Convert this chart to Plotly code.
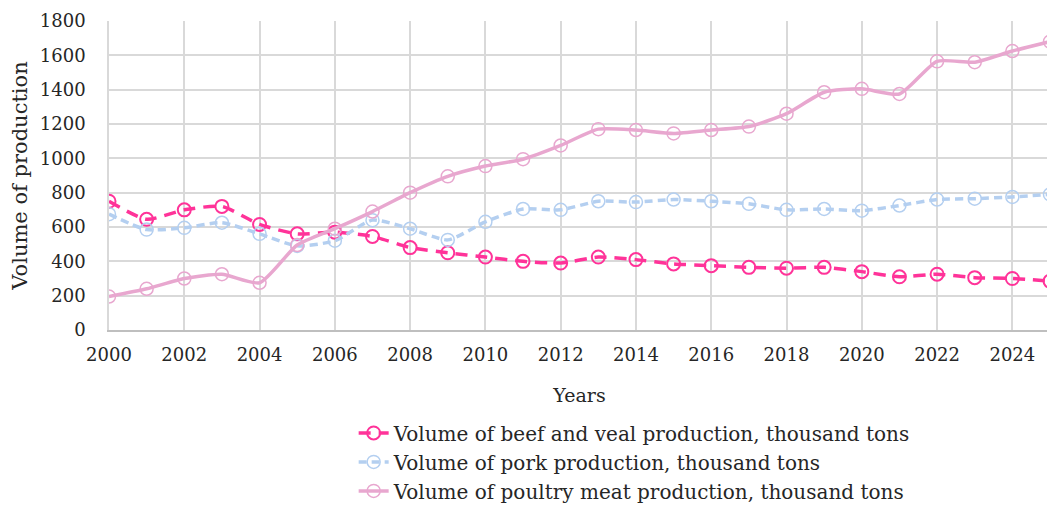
import plotly.graph_objects as go

years = list(range(2000, 2026))
beef = [750, 645, 700, 720, 615, 560, 570, 545, 480, 450, 425, 400, 390,
        425, 410, 385, 375, 365, 360, 365, 340, 310, 325, 305, 300, 285]
pork = [675, 585, 595, 625, 560, 490, 520, 640, 590, 525, 630, 705, 700,
        750, 745, 760, 750, 735, 700, 705, 695, 725, 760, 765, 775, 790]
poultry = [195, 240, 300, 325, 275, 495, 590, 690, 800, 895, 955, 995, 1075,
           1170, 1165, 1145, 1165, 1185, 1260, 1385, 1405, 1375, 1565, 1560, 1625, 1680]

font = "DejaVu Serif"

fig = go.Figure()
fig.add_trace(go.Scatter(
    x=years, y=beef, name="Volume of beef and veal production, thousand tons",
    mode="lines+markers", line=dict(color="#ff3399", width=3.5, dash="12px,8px", shape="spline", smoothing=0.6),
    marker=dict(symbol="circle-open", size=13, color="#ff3399", line=dict(width=2)),
))
fig.add_trace(go.Scatter(
    x=years, y=pork, name="Volume of pork production, thousand tons",
    mode="lines+markers", line=dict(color="#b4cff0", width=3.5, dash="8px,5px", shape="spline", smoothing=0.6),
    marker=dict(symbol="circle-open", size=13, color="#b4cff0", line=dict(width=1.5)),
))
fig.add_trace(go.Scatter(
    x=years, y=poultry, name="Volume of poultry meat production, thousand tons",
    mode="lines+markers", line=dict(color="#e8a7cf", width=3.5, shape="spline", smoothing=0.6),
    marker=dict(symbol="circle-open", size=13, color="#e8a7cf", line=dict(width=1.5)),
))

# the page body has an 8px margin, so the figure is a bit smaller than the window
fig.update_layout(
    width=1047, height=508,
    margin=dict(l=101, r=5, t=13, b=184),
    paper_bgcolor="white", plot_bgcolor="white",
    font=dict(family=font, size=18, color="#262626"),
    legend=dict(x=0.26, y=-0.27, xanchor="left", yanchor="top", orientation="v",
                font=dict(size=20), tracegroupgap=0),
    xaxis=dict(title=dict(text="Years", standoff=25, font=dict(size=19)), range=[2000, 2025], dtick=2, tick0=2000,
               showgrid=True, gridcolor="#d9d9d9", gridwidth=1.5, automargin=False, ticklabelstandoff=7,
               showline=True, linecolor="#bfbfbf", linewidth=2, ticks="", zeroline=False),
    yaxis=dict(title=dict(text="Volume of production", standoff=16, font=dict(size=21)), range=[0, 1800], dtick=200,
               showgrid=True, gridcolor="#d9d9d9", gridwidth=1.5, automargin=False, ticklabelstandoff=18,
               showline=True, linecolor="#d9d9d9", linewidth=1.5, ticks="", zeroline=False),
)

fig.write_html("out.html")
